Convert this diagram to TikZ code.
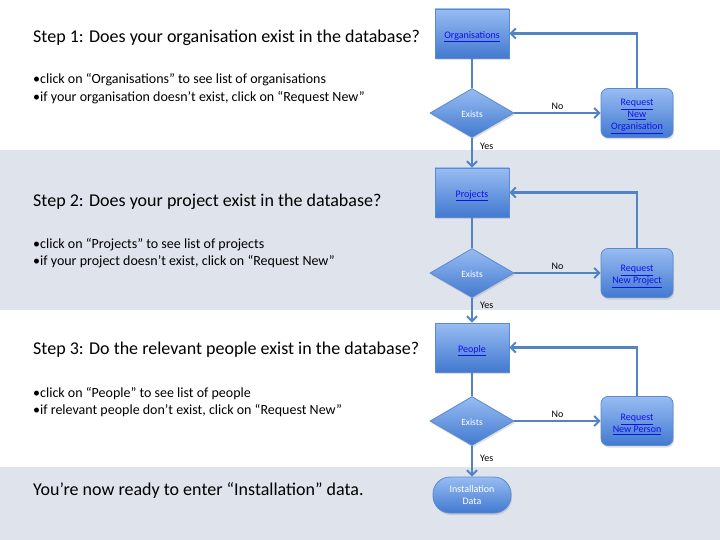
\documentclass[tikz,border=0pt]{standalone}
\usepackage{fontspec}
\setmainfont{Carlito}
\usetikzlibrary{shapes.geometric,arrows.meta,shadows}
\definecolor{bandgrey}{HTML}{DFE4EC}
\definecolor{boxtop}{HTML}{98BCF2}
\definecolor{boxbot}{HTML}{4279D0}
\definecolor{boxline}{HTML}{5B8AD0}
\definecolor{flowcol}{HTML}{5284C4}
\definecolor{linkblue}{HTML}{1010EE}
\newcommand{\lnk}[1]{\textcolor{linkblue}{\underline{#1}}}
\newcommand{\tpad}{\rule{0pt}{13.5pt}}
\tikzset{
  shapebase/.style={draw=boxline, line width=0.8pt, top color=boxtop, bottom color=boxbot,
    font=\fontsize{10}{12}\selectfont, align=center, inner sep=1pt,
    drop shadow={opacity=0.25, shadow xshift=1pt, shadow yshift=-2pt}},
  procbox/.style={shapebase, rectangle, minimum width=74pt, minimum height=49pt},
  decision/.style={shapebase, diamond, minimum width=84pt, minimum height=49pt, text=white,
    font=\fontsize{9.5}{11}\selectfont},
  reqbox/.style={shapebase, rectangle, rounded corners=7pt, minimum width=72pt, minimum height=49pt},
  termbox/.style={shapebase, rectangle, rounded corners=17pt, minimum width=78pt, minimum height=36pt, text=white},
  flowline/.style={draw=flowcol, line width=2.4pt},
  flowarrow/.style={flowline, -{Straight Barb[length=5pt,width=10pt,line width=2pt]}},
  heading/.style={anchor=west, font=\fontsize{18}{21}\selectfont, inner sep=0pt},
  bullet/.style={anchor=west, font=\fontsize{14}{16}\selectfont, inner sep=0pt},
  lab/.style={font=\fontsize{10}{11}\selectfont, inner sep=1pt}
}
\begin{document}
\begin{tikzpicture}[x=1pt,y=-1pt]
\useasboundingbox (0,0) rectangle (720,540);
\fill[white] (0,0) rectangle (720,540);
\fill[bandgrey] (0,150) rectangle (720,310);
\fill[bandgrey] (0,467) rectangle (720,540);

% texts
\node[heading] (h1) at (33,38) {Step 1: Does your organisation exist in the database?};
\node[bullet] (b1a) at (33,80) {•click on “Organisations” to see list of organisations};
\node[bullet] (b1b) at (33,98) {•if your organisation doesn’t exist, click on “Request New”};
\node[heading] (h2) at (33,202) {Step 2: Does your project exist in the database?};
\node[bullet] (b2a) at (33,245) {•click on “Projects” to see list of projects};
\node[bullet] (b2b) at (33,262) {•if your project doesn’t exist, click on “Request New”};
\node[heading] (h3) at (33,350) {Step 3: Do the relevant people exist in the database?};
\node[bullet] (b3a) at (33,394) {•click on “People” to see list of people};
\node[bullet] (b3b) at (33,411) {•if relevant people don’t exist, click on “Request New”};
\node[heading] (h4) at (33,490) {You’re now ready to enter “Installation” data.};

% flowchart
\node[procbox] (org) at (472,33.5) {\tpad\lnk{Organisations}};
\node[decision] (d1) at (472,113) {\rule{0pt}{10pt}Exists};
\node[reqbox] (r1) at (637,113) {\tpad\lnk{Request}\\\lnk{New}\\\lnk{Organisation}};
\node[procbox] (proj) at (472,192.5) {\tpad\lnk{Projects}};
\node[decision] (d2) at (472,273) {\rule{0pt}{10pt}Exists};
\node[reqbox] (r2) at (637,273) {\tpad\lnk{Request}\\\lnk{New Project}};
\node[procbox] (ppl) at (472,347.5) {\tpad\lnk{People}};
\node[decision] (d3) at (472,421) {\rule{0pt}{10pt}Exists};
\node[reqbox] (r3) at (637,421) {\tpad\lnk{Request}\\\lnk{New Person}};
\node[termbox] (inst) at (472,495) {Installation\\Data};

\draw[flowline] (org) -- (d1);
\draw[flowarrow] (d1) -- node[lab, above, yshift=1pt] {No} (r1);
\draw[flowarrow] (r1.north) |- (org.east);
\draw[flowarrow] (d1) -- node[lab, pos=0.3, anchor=west, xshift=6pt] {Yes} (proj);

\draw[flowline] (proj) -- (d2);
\draw[flowarrow] (d2) -- node[lab, above, yshift=1pt] {No} (r2);
\draw[flowarrow] (r2.north) |- (proj.east);
\draw[flowarrow] (d2) -- node[lab, pos=0.3, anchor=west, xshift=6pt] {Yes} (ppl);

\draw[flowline] (ppl) -- (d3);
\draw[flowarrow] (d3) -- node[lab, above, yshift=1pt] {No} (r3);
\draw[flowarrow] (r3.north) |- (ppl.east);
\draw[flowarrow] (d3) -- node[lab, pos=0.4, anchor=west, xshift=6pt] {Yes} (inst);
\end{tikzpicture}
\end{document}
